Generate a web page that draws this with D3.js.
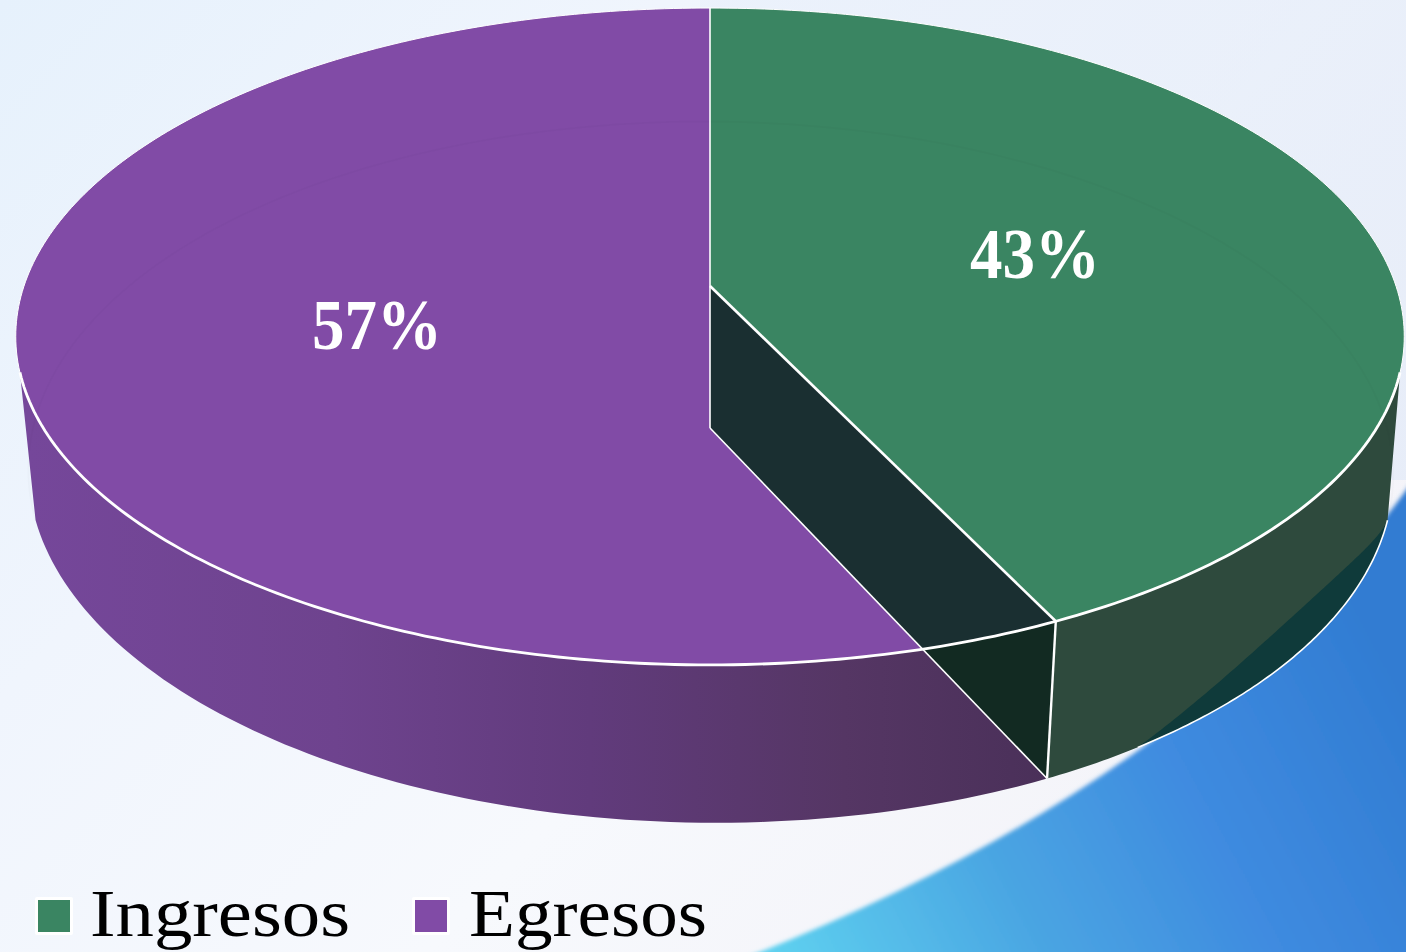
<!DOCTYPE html>
<html><head><meta charset="utf-8">
<script src="https://cdn.jsdelivr.net/npm/d3@7"></script>
<style>html,body{margin:0;padding:0;overflow:hidden;background:#f5f8fd}svg{display:block}</style>
</head><body><svg id="c" width="1406" height="952"></svg>
<script>
const categories = ["Ingresos", "Egresos"];
const values = [42.85, 57.15];
const valueLabels = ["43%", "57%"];
const colors = ["#3a8562", "#814ba6"];

const svg = d3.select("#c"), defs = svg.append("defs");

function grad(id, attrs, stops){
  const g = defs.append("linearGradient").attr("id", id).attr("gradientUnits","userSpaceOnUse");
  Object.entries(attrs).forEach(([k,v])=>g.attr(k,v));
  stops.forEach(([o,c])=>g.append("stop").attr("offset",o).attr("stop-color",c));
}
grad("bg",{x1:0,y1:0,x2:1000,y2:950},[[0,"#e6f1fc"],[.35,"#f0f5fd"],[.7,"#f7f9fd"],[1,"#f4f4f9"]]);
grad("bg2",{x1:700,y1:0,x2:1406,y2:400},[[0,"#e9f0fb"],[1,"#e2eaf8"]]);
grad("blue",{x1:780,y1:960,x2:1380,y2:640},[[0,"#5ed0ef"],[.35,"#4aa5e2"],[.65,"#3f8be0"],[1,"#317cd2"]]);
grad("purpleWall",{x1:30,y1:0,x2:1048,y2:0},[[0,"#75479a"],[.3,"#6e438e"],[.55,"#613b7c"],[.8,"#553664"],[1,"#4a3059"]]);
defs.append("filter").attr("id","soft").append("feGaussianBlur").attr("stdDeviation",2);

// background
svg.append("rect").attr("width",1406).attr("height",952).attr("fill","url(#bg)");
svg.append("rect").attr("x",700).attr("width",706).attr("height",480).attr("fill","url(#bg2)").attr("opacity",.7);
svg.append("path").attr("d","M740,960 Q1200,780 1412,482 L1412,960 Z").attr("fill","url(#blue)").attr("filter","url(#soft)");

// perspective projections of the disc, top and bottom
const topDisc = {cx:710, cy:286, R:686, A:320.7, k:.1537, shear:0};
const botDisc = {cx:710, cy:428, R:677, A:345, k:.126, shear:6};
function project(p, theta){
  const u = Math.sin(theta), v = -Math.cos(theta), d = 1 - p.k*v;
  return [p.cx + p.R*u/d + p.shear*v, p.cy + p.A*v/d];
}
const rad = d => d*Math.PI/180;
const arcPts = (p,a,b,n=90) => d3.range(n+1).map(i => project(p, a+(b-a)*i/n));
const line = d3.line();

const arcs = d3.pie().sort(null)(values);
const a0 = arcs[0], a1 = arcs[1];
const cut = a0.endAngle;
const silR = rad(105), silL = rad(255), TAU = 2*Math.PI;

// walls
svg.append("path").attr("d", line([...arcPts(botDisc,cut,silL),...arcPts(topDisc,silL,cut)])+"Z").attr("fill","url(#purpleWall)");
svg.append("path").attr("d", line([...arcPts(botDisc,silR,cut),...arcPts(topDisc,cut,silR)])+"Z").attr("fill","#2e4a3d");

// dark band on the green wall
const bandEnd = rad(146);
const bandOuter = arcPts(botDisc,silR,bandEnd);
const bandInner = d3.range(91).map(i=>{
  const t=i/90, th=silR+(bandEnd-silR)*t, f=.3*Math.sin(Math.PI*t);
  const b=project(botDisc,th), c=project(topDisc,th);
  return [b[0]+(c[0]-b[0])*f, b[1]+(c[1]-b[1])*f];
});
svg.append("path").attr("d", line([...bandOuter,...bandInner.reverse()])+"Z").attr("fill","#0f3a3a");
svg.append("path").attr("d", line(bandOuter)).attr("fill","none").attr("stroke","#fff").attr("stroke-width",1.6);

// top surfaces
const sector = (a,b)=> line([[topDisc.cx,topDisc.cy],...arcPts(topDisc,a,b,180)])+"Z";
svg.append("path").attr("d", sector(a1.startAngle,a1.endAngle)).attr("fill",colors[1]);

// cut face
const apexT=[topDisc.cx,topDisc.cy], apexB=[botDisc.cx,botDisc.cy], rimT=project(topDisc,cut), rimB=project(botDisc,cut);
const facePath = line([apexT,rimT,rimB,apexB])+"Z";
defs.append("clipPath").attr("id","topClip").append("path").attr("d", line(arcPts(topDisc,0,TAU,240))+"Z");
svg.append("path").attr("d",facePath).attr("fill","#122a22");
svg.append("path").attr("d",facePath).attr("fill","#1a2f31").attr("clip-path","url(#topClip)");
svg.append("path").attr("d", sector(a0.startAngle,a0.endAngle)).attr("fill",colors[0]);

// faint far rim of the bottom seen through the top
svg.append("path").attr("d", line(arcPts(botDisc,silL,TAU))).attr("fill","none").attr("stroke","#000").attr("stroke-opacity",.016).attr("stroke-width",2);
svg.append("path").attr("d", line(arcPts(botDisc,0,silR))).attr("fill","none").attr("stroke","#000").attr("stroke-opacity",.016).attr("stroke-width",2);

// white lines
const W = (d,w)=>svg.append("path").attr("d",d).attr("fill","none").attr("stroke","#fff").attr("stroke-width",w).attr("stroke-linejoin","round");
W(line([apexB,rimB]),1.6);
W(line([apexT,apexB]),1.6);
W(line([rimT,rimB]),2.4);
W(line([apexT,rimT]),2.6);
W(line([[topDisc.cx,8],apexT]),1.6);
W(line(arcPts(topDisc,silR,silL,180)),2.8);
W(line(arcPts(topDisc,silL,TAU,120)),1);
W(line(arcPts(topDisc,0,silR,120)),1);

// value labels
const labelPos = [[1035,278],[377,349]];
valueLabels.forEach((t,i)=>svg.append("text").attr("x",labelPos[i][0]).attr("y",labelPos[i][1])
  .attr("text-anchor","middle").attr("font-family","'Liberation Serif',serif").attr("font-weight","bold")
  .attr("font-size",72).attr("fill","#fff").attr("textLength",130).attr("lengthAdjust","spacingAndGlyphs").text(t));

// legend
const legendX = [38,415], legendTextX=[90,469], legendW=[260,238];
categories.forEach((c,i)=>{
  svg.append("rect").attr("x",legendX[i]-3).attr("y",897).attr("width",38).attr("height",38).attr("rx",2).attr("fill","#fff");
  svg.append("rect").attr("x",legendX[i]).attr("y",900).attr("width",32).attr("height",32).attr("fill",colors[i]);
  svg.append("text").attr("x",legendTextX[i]).attr("y",936).attr("font-family","'Liberation Serif',serif")
    .attr("font-size",68).attr("fill","#000").attr("textLength",legendW[i]).attr("lengthAdjust","spacingAndGlyphs").text(c);
});
</script></body></html>
